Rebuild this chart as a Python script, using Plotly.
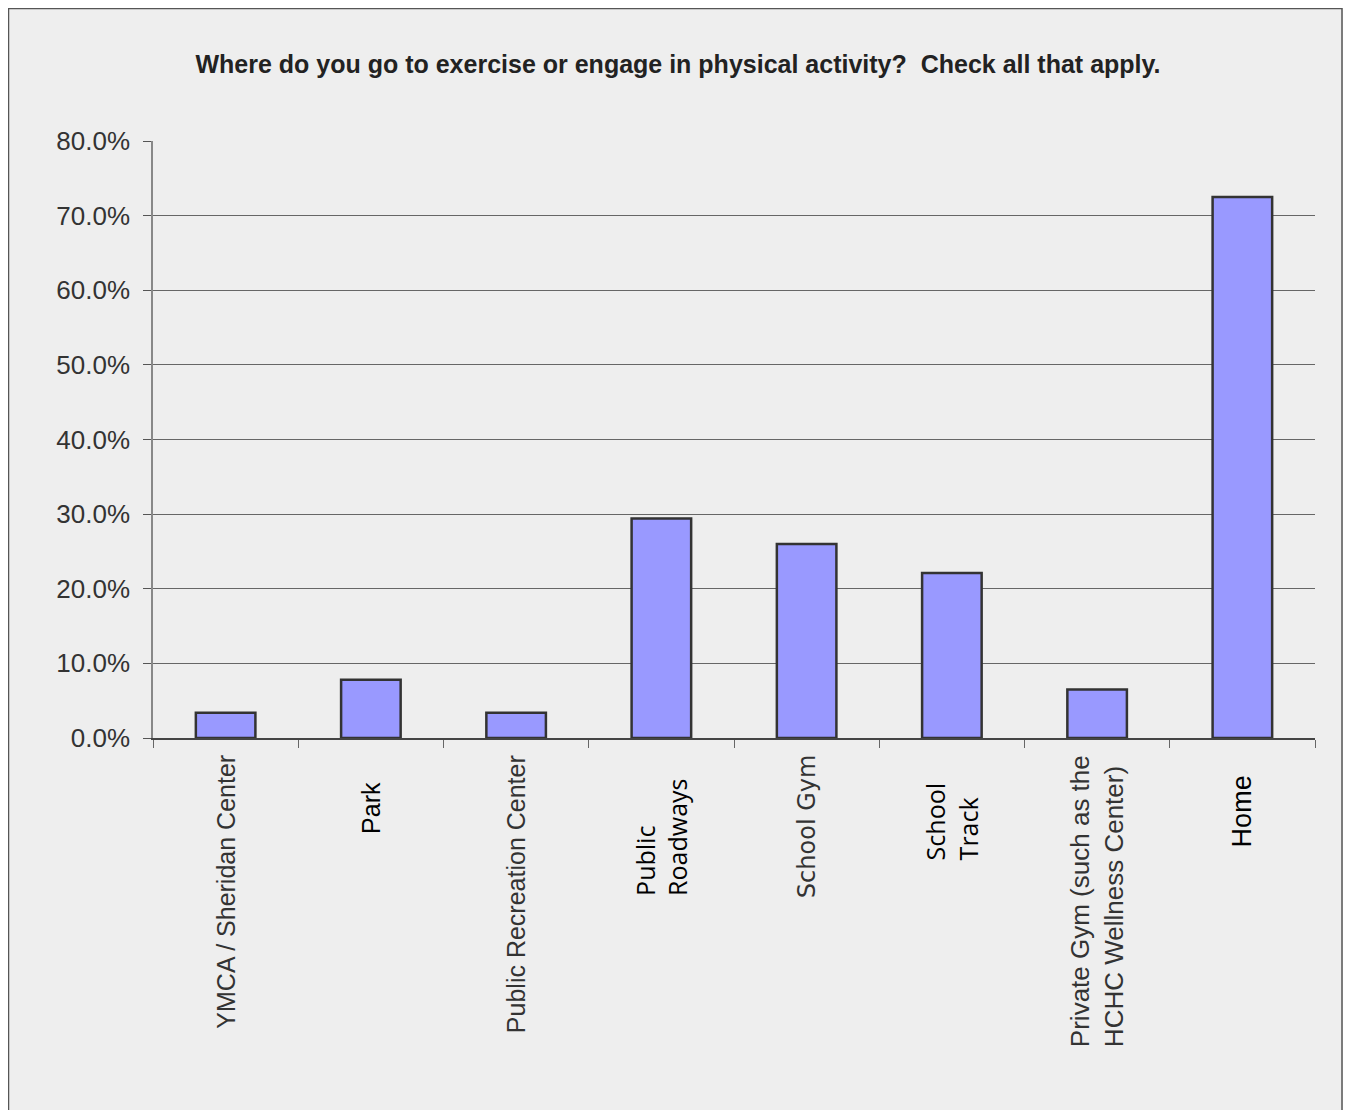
import plotly.graph_objects as go

categories = ["YMCA / Sheridan Center", "Park", "Public Recreation Center", "Public Roadways",
              "School Gym", "School Track", "Private Gym", "Home"]
labels = ["YMCA / Sheridan Center", "Park", "Public Recreation Center", "Public<br>Roadways",
          "School Gym", "School<br>Track", "Private Gym (such as the<br>HCHC Wellness Center)", "Home"]
values = [3.4, 7.8, 3.4, 29.4, 26.0, 22.1, 6.5, 72.5]
y_ticks = [0, 10, 20, 30, 40, 50, 60, 70, 80]
y_ticktext = ["0.0%", "10.0%", "20.0%", "30.0%", "40.0%", "50.0%", "60.0%", "70.0%", "80.0%"]

# label styles (font, size, colour, offset below axis)
lab_font = ["Liberation Sans", "Liberation Sans", "Liberation Sans", "Open Sans",
            "DejaVu Sans", "Open Sans", "Liberation Sans", "Liberation Sans"]
lab_size = [25, 25, 25, 25, 24, 25, 26, 27]
lab_color = ["#333333", "#000000", "#333333", "#000000", "#333333", "#000000", "#333333", "#000000"]
lab_shift = [15, 42, 15, 39, 15, 43, 15, 35]

W, H = 1340, 1110
ML, MR, MT = 145, 33, 133
PH = 597
MB = H - MT - PH
PW = W - ML - MR

fig = go.Figure()
fig.add_trace(go.Bar(
    x=categories, y=values,
    marker=dict(color="#9999ff", line=dict(color="#333333", width=2.5)),
    width=0.41,
))

for c, t, f, s, col, sh in zip(categories, labels, lab_font, lab_size, lab_color, lab_shift):
    fig.add_annotation(
        x=c, xref="x", y=0, yref="paper", yanchor="top", xanchor="center",
        text=t, textangle=-90, showarrow=False, align="left",
        font=dict(family=f, size=s, color=col), yshift=-sh,
    )

# outer frame
fig.add_shape(type="rect", xref="paper", yref="paper",
              x0=(0.5 - ML) / PW, x1=(W - 6 - ML) / PW,
              y0=-(MB + 30) / PH, y1=1 + (MT - 0.5) / PH,
              line=dict(color="#555555", width=1.5), layer="below")

fig.update_layout(
    width=W, height=H,
    margin=dict(l=ML, r=MR, t=MT, b=MB),
    paper_bgcolor="#eeeeee", plot_bgcolor="#eeeeee",
    showlegend=False,
    title=dict(text="<b>Where do you go to exercise or engage in physical activity?  Check all that apply.</b>",
               x=0.5, xref="container", xanchor="center",
               y=1 - 56 / H, yref="container", yanchor="middle",
               font=dict(family="Liberation Sans", size=25, color="#222222")),
    font=dict(family="Liberation Sans"),
)
fig.update_xaxes(
    type="category", showticklabels=False, tickson="boundaries",
    ticks="outside", ticklen=8, tickcolor="#666666", tickwidth=1.2,
    showline=True, linecolor="#444444", linewidth=1.5, showgrid=False,
    range=[-0.5, 7.5],
)
fig.update_yaxes(
    range=[0, 80], tickvals=y_ticks, ticktext=y_ticktext,
    ticks="outside", ticklen=8, tickcolor="#555555",
    tickfont=dict(family="Liberation Sans", size=26, color="#333333"),
    ticklabelstandoff=8,
    showline=True, linecolor="#888888", linewidth=1.5,
    showgrid=True, gridcolor="#666666", gridwidth=1, zeroline=False,
)

fig.write_html("out.html")
